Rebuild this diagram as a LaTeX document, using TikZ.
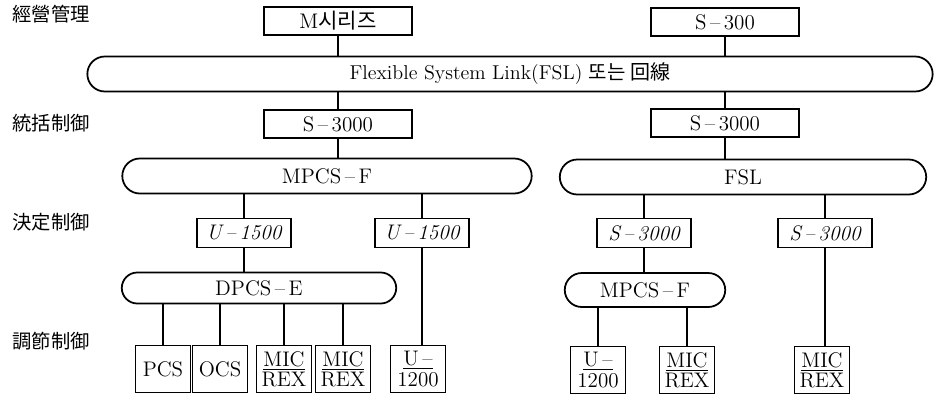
\documentclass[tikz,border=0pt]{standalone}
\usepackage{fontspec}
\newfontfamily\kr{Noto Sans CJK KR}
\usetikzlibrary{shapes.misc}

\begin{document}
\begin{tikzpicture}[x=0.02cm,y=-0.02cm,font=\fontsize{12}{14}\selectfont,
 unit/.style={draw,line width=1pt,minimum width=2.96cm,minimum height=.56cm,inner sep=1pt},
 ctl/.style={draw,line width=1pt,minimum width=1.88cm,minimum height=.58cm,inner sep=1pt,
  font=\fontsize{12}{14}\selectfont\itshape},
 leaf/.style={draw,line width=1pt,minimum width=1.1cm,minimum height=.94cm,inner sep=1pt,
  align=center,font=\fontsize{12}{11.5}\selectfont},
 bus/.style={draw,line width=1pt,rounded rectangle,minimum height=.7cm,inner sep=1pt},
 lvl/.style={anchor=west,inner sep=0pt,font=\fontsize{11}{13}\kr},
 wire/.style={line width=1pt}]
\useasboundingbox (0,0) rectangle (937,396);

% levels
\node[lvl] (mgmt) at (12,14) {經營管理};
\node[lvl] (supv) at (12,123) {統括制御};
\node[lvl] (dcsn) at (12,222) {決定制御};
\node[lvl] (regl) at (12,341) {調節制御};

% management
\node[unit] (mser) at (338,21) {M{\kr 시리즈}};
\node[unit] (s300) at (725,22) {S\,--\,300};
\node[bus,minimum width=16.98cm,font=\fontsize{11.4}{13}\selectfont] (fsl) at (510,74)
 {Flexible System Link(FSL) {\kr 또는 回線}};

% supervisory
\node[unit] (sa) at (338,124) {S\,--\,3000};
\node[unit] (sb) at (725,123) {S\,--\,3000};
\node[bus,minimum width=8.26cm] (mpcs) at (327,176) {MPCS\,--\,F};
\node[bus,minimum width=7.4cm] (fslb) at (743,177) {FSL};

% decision
\node[ctl] (ua) at (244,233) {U\,--\,1500};
\node[ctl] (ub) at (422,233) {U\,--\,1500};
\node[ctl] (sc) at (644,233) {S\,--\,3000};
\node[ctl] (sd) at (825,233) {S\,--\,3000};
\node[bus,minimum width=5.56cm,minimum height=.62cm] (dpcs) at (259,288) {DPCS\,--\,E};
\node[bus,minimum width=3.28cm,minimum height=.68cm] (mpcsb) at (645,290) {MPCS\,--\,F};

% regulatory
\node[leaf] (pcs) at (163,369) {PCS};
\node[leaf] (ocs) at (220,369) {OCS};
\node[leaf] (mica) at (284,369) {\underline{MIC}\\REX};
\node[leaf] (micb) at (343,369) {\underline{MIC}\\REX};
\node[leaf] (uca) at (418,369) {\underline{U\,--}\\1200};
\node[leaf] (ucb) at (598,370) {\underline{U\,--}\\1200};
\node[leaf] (micc) at (687,370) {\underline{MIC}\\REX};
\node[leaf] (micd) at (822,370) {\underline{MIC}\\REX};

% connections
\draw[wire] (mser) -- (mser.south |- fsl.north);
\draw[wire] (s300) -- (s300.south |- fsl.north);
\draw[wire] (sa) -- (sa.north |- fsl.south);
\draw[wire] (sb) -- (sb.north |- fsl.south);
\draw[wire] (sa) -- (sa.south |- mpcs.north);
\draw[wire] (sb.south) -- (sb.south |- fslb.north);
\draw[wire] (ua) -- (ua.north |- mpcs.south);
\draw[wire] (ub) -- (ub.north |- mpcs.south);
\draw[wire] (sc) -- (sc.north |- fslb.south);
\draw[wire] (sd) -- (sd.north |- fslb.south);
\draw[wire] (ua) -- (ua.south |- dpcs.north);
\draw[wire] (ub.south) -- (ub.south |- uca.north);
\draw[wire] (sc.south) -- (sc.south |- mpcsb.north);
\draw[wire] (sd.south) -- (sd.south |- micd.north);
\foreach \n in {pcs,ocs,mica,micb}
 \draw[wire] (\n) -- (\n.north |- dpcs.south);
\foreach \n in {ucb,micc}
 \draw[wire] (\n) -- (\n.north |- mpcsb.south);
\end{tikzpicture}
\end{document}
